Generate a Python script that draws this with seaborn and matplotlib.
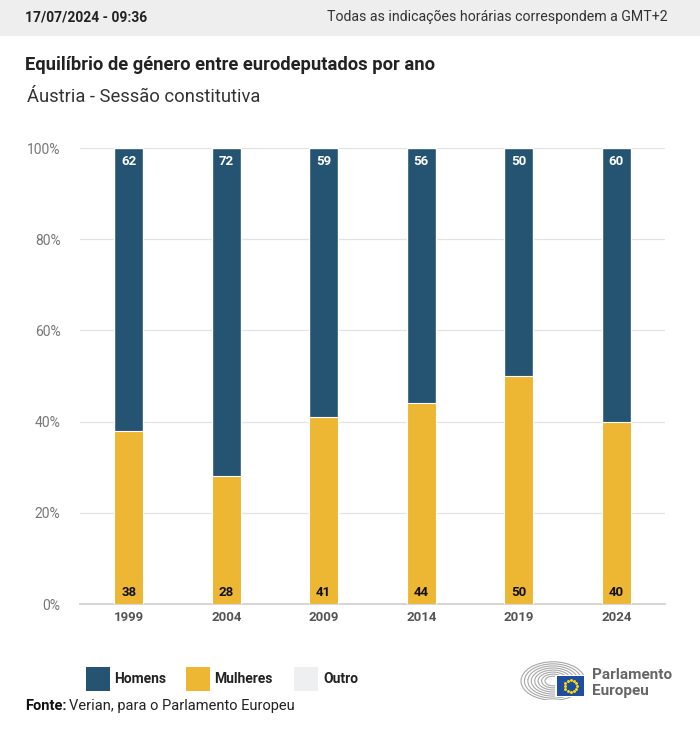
import matplotlib
matplotlib.use("Agg")
import matplotlib.pyplot as plt
import matplotlib.patches as mpatches
import numpy as np
import pandas as pd
import seaborn as sns

years = ["1999", "2004", "2009", "2014", "2019", "2024"]
homens = [62, 72, 59, 56, 50, 60]
mulheres = [38, 28, 41, 44, 50, 40]
outro = [0, 0, 0, 0, 0, 0]
y_ticks = [0, 20, 40, 60, 80, 100]
y_tick_labels = ["0%", "20%", "40%", "60%", "80%", "100%"]

NAVY = "#255473"
YELLOW = "#EDB633"
OUTRO = "#EEEFF1"
GRAY = "#777777"

sns.set_theme(style="white")
plt.rcParams['font.family'] = ['Roboto', 'DejaVu Sans']

W, H = 700, 731
fig = plt.figure(figsize=(W / 100, H / 100), dpi=100)

def px(x, y):
    return x / W, 1 - y / H

# header band
fig.patches.append(mpatches.Rectangle((0, 1 - 36 / H), 1, 36 / H, transform=fig.transFigure,
                                      facecolor="#EEEEEE", edgecolor="none", zorder=0))
fig.text(*px(25, 17), "17/07/2024 - 09:36", fontsize=10, fontweight="bold", color="#222222",
         va="center", ha="left")
fig.text(*px(668, 17), "Todas as indicações horárias correspondem a GMT+2", fontsize=10.2,
         color="#333333", va="center", ha="right")
fig.text(*px(25, 65), "Equilíbrio de género entre eurodeputados por ano", fontsize=13.2,
         fontweight="bold", color="#222222", va="center", ha="left")
fig.text(*px(27, 97), "Áustria - Sessão constitutiva", fontsize=13.2, color="#333333",
         va="center", ha="left")

# axes
left, right, top, bottom = 80, 665, 148, 604
ax = fig.add_axes([left / W, 1 - bottom / H, (right - left) / W, (bottom - top) / H])

df = pd.DataFrame({"ano": years,
                   "total": [h + m + o for h, m, o in zip(homens, mulheres, outro)],
                   "mulheres": mulheres})
sns.barplot(data=df, x="ano", y="total", color=NAVY, width=0.3, saturation=1, ax=ax, zorder=2)
sns.barplot(data=df, x="ano", y="mulheres", color=YELLOW, width=0.3, saturation=1, ax=ax,
            zorder=3, edgecolor="white", linewidth=0.8)

ax.set_xlim(-0.5, len(years) - 0.5)
ax.set_ylim(0, 100)
ax.set_yticks(y_ticks)
ax.set_yticklabels(y_tick_labels)
ax.set_xlabel("")
ax.set_ylabel("")
ax.grid(axis="y", color="#E3E3E3", linewidth=0.9, zorder=0)
ax.set_axisbelow(True)
for s in ["top", "right", "left"]:
    ax.spines[s].set_visible(False)
ax.spines["bottom"].set_color("#D0D0D0")
ax.tick_params(axis="y", length=0, pad=14, labelsize=10, labelcolor=GRAY)
ax.tick_params(axis="x", length=0, pad=5, labelsize=9.5, labelcolor="#555555")
for lab in ax.get_xticklabels():
    lab.set_fontweight("bold")

for i, (h, m) in enumerate(zip(homens, mulheres)):
    ax.text(i, 97, str(h), ha="center", va="center", color="white", fontsize=9.5,
            fontweight="bold", zorder=5)
    ax.text(i, 2.5, str(m), ha="center", va="center", color="#111111", fontsize=9.5,
            fontweight="bold", zorder=5)

# legend
leg_items = [("Homens", NAVY, 86, 114), ("Mulheres", YELLOW, 186, 214), ("Outro", OUTRO, 294, 323)]
for name, col, sx, tx in leg_items:
    fig.patches.append(mpatches.Rectangle(px(sx, 691), 24 / W, 24 / H, transform=fig.transFigure,
                                          facecolor=col, edgecolor="none"))
    fig.text(*px(tx, 679), name, fontsize=10, fontweight="bold", color="#222222",
             va="center", ha="left")

fig.text(*px(25, 706), "Fonte:", fontsize=10.5, fontweight="bold", color="#111111",
         va="center", ha="left")
fig.text(*px(69, 706), "Verian, para o Parlamento Europeu", fontsize=10.5, color="#222222",
         va="center", ha="left")

# logo
lax = fig.add_axes([515 / W, 1 - 700 / H, 75 / W, 45 / H])
lax.set_xlim(0, 75)
lax.set_ylim(0, 45)
lax.axis("off")
cx, cy = 38, 19
for r in np.linspace(8, 32, 8):
    lax.add_patch(mpatches.Ellipse((cx, cy), 2 * r, 1.2 * r, fill=False,
                                   edgecolor="#A8A8A8", linewidth=0.8))
lax.add_patch(mpatches.Rectangle((40, 3), 31, 22, facecolor="white", edgecolor="none", zorder=3))
lax.add_patch(mpatches.Rectangle((42, 4), 27, 20, facecolor="#1F4DA0", edgecolor="none", zorder=4))
ang = np.linspace(0, 2 * np.pi, 13)[:-1]
lax.scatter(55.5 + 6 * np.cos(ang), 14 + 6 * np.sin(ang), s=1.2, color="#FFDD00", zorder=5)
fig.text(*px(592, 675), "Parlamento", fontsize=11, fontweight="bold", color="#666666",
         va="center", ha="left")
fig.text(*px(592, 691), "Europeu", fontsize=11, fontweight="bold", color="#666666",
         va="center", ha="left")

fig.savefig("out.png", dpi=100)
